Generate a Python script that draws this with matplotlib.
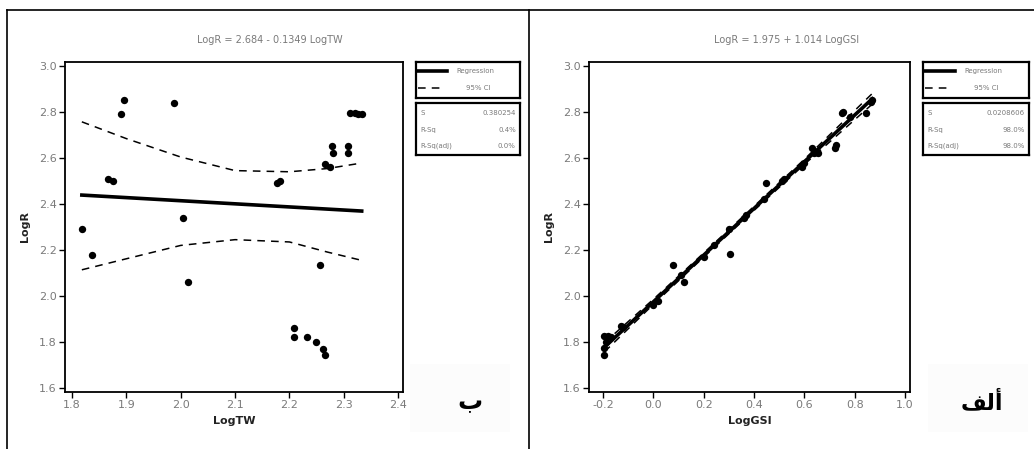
import matplotlib

matplotlib.use("Agg")
import matplotlib.pyplot as plt
from matplotlib.lines import Line2D
from matplotlib.patches import Rectangle
import numpy as np

W, H = 1034, 449
GRAY = "#7a7a7a"
DARK = "#222222"

# ---- left panel: LogTW vs LogR ----
tw_x = [1.818, 1.837, 1.895, 1.890, 1.867, 1.876, 1.988, 2.005, 2.014, 2.177,
        2.183, 2.208, 2.208, 2.232, 2.249, 2.261, 2.265, 2.256, 2.265, 2.275,
        2.278, 2.281, 2.308, 2.308, 2.311, 2.321, 2.327, 2.333]
tw_y = [2.29, 2.18, 2.85, 2.79, 2.51, 2.50, 2.84, 2.34, 2.06, 2.49,
        2.50, 1.86, 1.82, 1.82, 1.80, 1.77, 1.745, 2.135, 2.575, 2.56,
        2.65, 2.62, 2.65, 2.62, 2.795, 2.795, 2.79, 2.79]
tw_fit = (2.684, -0.1349)
tw_ci_x = [1.818, 1.9, 2.0, 2.1, 2.2, 2.27, 2.333]
tw_ci_hi = [2.757, 2.684, 2.604, 2.545, 2.540, 2.554, 2.578]
tw_ci_lo = [2.114, 2.162, 2.220, 2.245, 2.235, 2.191, 2.155]
tw_stats = [("S", "0.380254"), ("R-Sq", "0.4%"), ("R-Sq(adj)", "0.0%")]

# ---- right panel: LogGSI vs LogR ----
gsi_x = [-0.195, -0.195, -0.19, -0.195, -0.18, -0.17, -0.13, -0.12, 0.0, 0.02,
         0.076, 0.122, 0.11, 0.20, 0.24, 0.304, 0.30, 0.36, 0.37, 0.447,
         0.44, 0.51, 0.52, 0.59, 0.60, 0.63, 0.655, 0.64, 0.72, 0.725,
         0.75, 0.755, 0.78, 0.845, 0.87, 0.865]
gsi_y = [1.745, 1.775, 1.80, 1.825, 1.825, 1.82, 1.87, 1.865, 1.96, 1.98,
         2.134, 2.063, 2.09, 2.17, 2.22, 2.182, 2.29, 2.34, 2.35, 2.49,
         2.42, 2.50, 2.51, 2.56, 2.58, 2.645, 2.62, 2.62, 2.645, 2.655,
         2.795, 2.80, 2.78, 2.795, 2.85, 2.845]
gsi_fit = (1.975, 1.014)
gsi_ci_x = [-0.195, 0.0, 0.2, 0.4, 0.6, 0.87]
gsi_ci_hi = [1.797, 1.986, 2.187, 2.390, 2.594, 2.880]
gsi_ci_lo = [1.757, 1.964, 2.169, 2.372, 2.572, 2.834]
gsi_stats = [("S", "0.0208606"), ("R-Sq", "98.0%"), ("R-Sq(adj)", "98.0%")]

fig = plt.figure(figsize=(W / 100, H / 100), dpi=100)
fig.patch.set_facecolor("white")


def px_axes(x0, y0, x1, y1):
    return fig.add_axes([x0 / W, 1 - y1 / H, (x1 - x0) / W, (y1 - y0) / H])


def panel(box, xs, ys, fit, ci_x, ci_hi, ci_lo, xlim, xticks, xlabel, title, title_x):
    ax = px_axes(*box)
    ax.scatter(xs, ys, s=28, color="black", zorder=3, linewidths=0)
    xr = np.array([min(xs), max(xs)])
    ax.plot(xr, fit[0] + fit[1] * xr, color="black", lw=2.6, zorder=2)
    ax.plot(ci_x, ci_hi, color="black", lw=1.1, ls=(0, (5, 4)))
    ax.plot(ci_x, ci_lo, color="black", lw=1.1, ls=(0, (5, 4)))
    ax.set_xlim(*xlim)
    ax.set_ylim(1.583, 3.017)
    ax.set_xticks(xticks)
    ax.set_xticklabels([f"{t:.1f}" for t in xticks])
    ax.set_yticks([1.6, 1.8, 2.0, 2.2, 2.4, 2.6, 2.8, 3.0])
    ax.tick_params(direction="out", length=4, width=1, labelsize=8,
                   labelcolor=GRAY, color="black", pad=2)
    for s in ax.spines.values():
        s.set_linewidth(1.3)
    ax.set_xlabel(xlabel, fontsize=8, fontweight="bold", color=DARK, labelpad=4)
    ax.set_ylabel("LogR", fontsize=8, fontweight="bold", color=DARK, labelpad=6)
    fig.text(title_x / W, 1 - 40 / H, title, ha="center", va="center",
             fontsize=7, color=GRAY)
    return ax


def legend_boxes(x0, x1, stats):
    lg = px_axes(x0, 62, x1, 98)
    lg.set_xlim(0, 1)
    lg.set_ylim(0, 1)
    lg.set_xticks([])
    lg.set_yticks([])
    for s in lg.spines.values():
        s.set_linewidth(1.6)
    lg.plot([0.02, 0.30], [0.75, 0.75], color="black", lw=2.6)
    lg.plot([0.02, 0.27], [0.28, 0.28], color="black", lw=1.1, ls=(0, (5, 4)))
    lg.text(0.57, 0.75, "Regression", ha="center", va="center", fontsize=5, color=GRAY)
    lg.text(0.60, 0.28, "95% CI", ha="center", va="center", fontsize=5, color=GRAY)

    st = px_axes(x0, 103, x1, 155)
    st.set_xlim(0, 1)
    st.set_ylim(0, 1)
    st.set_xticks([])
    st.set_yticks([])
    for s in st.spines.values():
        s.set_linewidth(1.6)
    for (name, val), yy in zip(stats, [0.81, 0.49, 0.18]):
        st.text(0.04, yy, name, ha="left", va="center", fontsize=5, color=GRAY)
        st.text(0.96, yy, val, ha="right", va="center", fontsize=5, color=GRAY)


panel((65, 62, 403, 392), tw_x, tw_y, tw_fit, tw_ci_x, tw_ci_hi, tw_ci_lo,
      (1.787, 2.409), [1.8, 1.9, 2.0, 2.1, 2.2, 2.3, 2.4], "LogTW",
      "LogR = 2.684 - 0.1349 LogTW", 270)
panel((589, 62, 910, 392), gsi_x, gsi_y, gsi_fit, gsi_ci_x, gsi_ci_hi, gsi_ci_lo,
      (-0.256, 1.02), [-0.2, 0.0, 0.2, 0.4, 0.6, 0.8, 1.0], "LogGSI",
      "LogR = 1.975 + 1.014 LogGSI", 787)

legend_boxes(416, 520, tw_stats)
legend_boxes(923, 1029, gsi_stats)

# very faint label backgrounds and panel letters (Persian: ب / الف)
for bx in (410, 928):
    fig.add_artist(Rectangle((bx / W, 1 - 432 / H), 100 / W, 68 / H,
                             transform=fig.transFigure, facecolor="#fcfcfc",
                             edgecolor="none", zorder=0))
fig.text(470 / W, 1 - 402 / H, "\ufe8f", ha="center", va="center",
         fontsize=18, fontweight="bold", color="black", family=["DejaVu Sans"])
fig.text(982 / W, 1 - 402 / H, "\ufed2\ufedf\ufe83", ha="center",
         va="center", fontsize=16, fontweight="bold", color="black",
         family=["DejaVu Sans"])

# outer frame lines
for xs_, ys_ in [([7, W], [10, 10]), ([7, 7], [10, H]), ([529, 529], [10, H])]:
    fig.add_artist(Line2D([x / W for x in xs_], [1 - y / H for y in ys_],
                          transform=fig.transFigure, color="black", lw=1.2))

fig.savefig("out.png", dpi=100, facecolor="white")
